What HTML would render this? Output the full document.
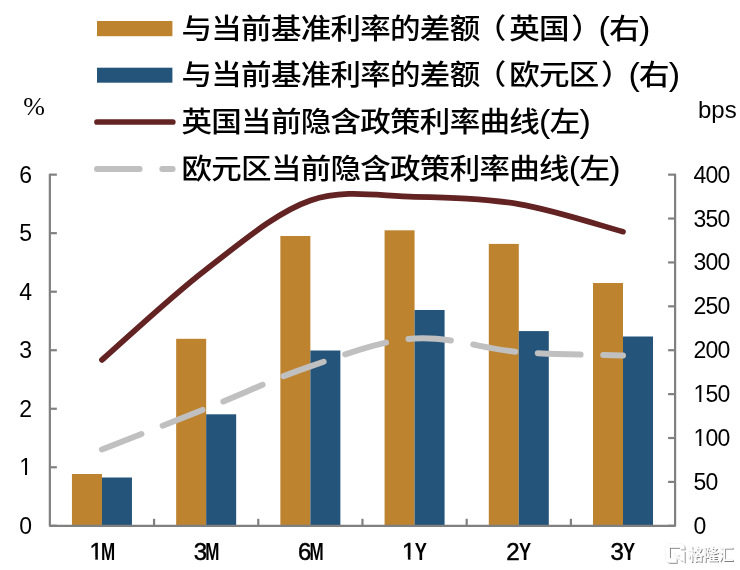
<!DOCTYPE html>
<html lang="zh-CN"><head><meta charset="utf-8"><title>chart</title>
<style>
html,body{margin:0;padding:0;background:#fff;}
body{width:740px;height:570px;overflow:hidden;}
svg{display:block;}
.lg{font-family:"Liberation Sans","Noto Sans CJK SC",sans-serif;font-size:29.2px;font-weight:500;letter-spacing:-0.68px;fill:#000;}
.num{font-family:"Liberation Sans",sans-serif;font-size:23px;letter-spacing:-0.8px;fill:#000;}
.cd{font-family:"Liberation Sans",sans-serif;font-size:24px;fill:#000;stroke:#000;stroke-width:0.5px;}
.cl{font-family:"Liberation Sans",sans-serif;font-size:24px;fill:#000;font-weight:bold;}
</style></head><body>
<svg width="740" height="570" viewBox="0 0 740 570">
<rect width="740" height="570" fill="#fff"/>
<rect x="71.95" y="474.00" width="30.00" height="51.80" fill="#BE832F"/>
<rect x="101.95" y="477.50" width="30.00" height="48.30" fill="#24547A"/>
<rect x="176.16" y="338.80" width="30.00" height="187.00" fill="#BE832F"/>
<rect x="206.16" y="414.30" width="30.00" height="111.50" fill="#24547A"/>
<rect x="280.37" y="236.00" width="30.00" height="289.80" fill="#BE832F"/>
<rect x="310.37" y="350.50" width="30.00" height="175.30" fill="#24547A"/>
<rect x="384.58" y="230.30" width="30.00" height="295.50" fill="#BE832F"/>
<rect x="414.58" y="310.00" width="30.00" height="215.80" fill="#24547A"/>
<rect x="488.79" y="243.90" width="30.00" height="281.90" fill="#BE832F"/>
<rect x="518.79" y="331.10" width="30.00" height="194.70" fill="#24547A"/>
<rect x="593.00" y="283.00" width="30.00" height="242.80" fill="#BE832F"/>
<rect x="623.00" y="336.50" width="30.00" height="189.30" fill="#24547A"/>
<g stroke="#808080" stroke-width="2.2" fill="none" stroke-linejoin="round">
<path d="M49.85 173.65 V525.80 H675.10 V173.65"/>
<path d="M49.85 525.80 h7"/>
<path d="M49.85 467.27 h7"/>
<path d="M49.85 408.75 h7"/>
<path d="M49.85 350.23 h7"/>
<path d="M49.85 291.70 h7"/>
<path d="M49.85 233.17 h7"/>
<path d="M49.85 174.65 h7"/>
<path d="M675.10 525.80 h-7"/>
<path d="M675.10 481.91 h-7"/>
<path d="M675.10 438.01 h-7"/>
<path d="M675.10 394.12 h-7"/>
<path d="M675.10 350.22 h-7"/>
<path d="M675.10 306.33 h-7"/>
<path d="M675.10 262.44 h-7"/>
<path d="M675.10 218.54 h-7"/>
<path d="M675.10 174.65 h-7"/>
<path d="M154.06 525.80 v-7"/>
<path d="M258.27 525.80 v-7"/>
<path d="M362.48 525.80 v-7"/>
<path d="M466.68 525.80 v-7"/>
<path d="M570.89 525.80 v-7"/>
</g>
<path d="M101.95 359.90 C119.32 344.82 171.43 295.97 206.16 269.40 C240.90 242.83 275.63 212.58 310.37 200.50 C345.11 188.42 379.84 196.30 414.58 196.90 C449.32 197.50 484.05 198.30 518.79 204.10 C553.52 209.90 605.63 227.10 623.00 231.70" fill="none" stroke="#642323" stroke-width="5.7" stroke-linecap="round" stroke-linejoin="round"/>
<path d="M101.95 449.50 C119.32 442.67 171.43 422.37 206.16 408.50 C240.90 394.63 275.63 377.98 310.37 366.30 C345.11 354.62 379.84 340.78 414.58 338.40 C449.32 336.02 484.05 349.17 518.79 352.00 C553.52 354.83 605.63 354.83 623.00 355.40" fill="none" stroke="#C0C0C0" stroke-width="6" stroke-linecap="round" stroke-linejoin="round" stroke-dasharray="42.6 22.7"/>
<rect x="97" y="21" width="75.4" height="15.2" fill="#BE832F"/>
<rect x="97" y="67.7" width="75.4" height="15" fill="#24547A"/>
<path d="M97 122.0 H172.8" stroke="#642323" stroke-width="5.7" stroke-linecap="round"/>
<path d="M97 168.9 H172.6" stroke="#C0C0C0" stroke-width="6" stroke-linecap="round" stroke-dasharray="42.6 22.7"/>
<text class="lg" transform="translate(181.5 38.75) scale(1.045 0.955)">与当前基准利率的差额<tspan dx="-3.6">（</tspan><tspan dx="3.6">英国</tspan><tspan dx="2.4">）</tspan><tspan dx="-2.4" style="font-size:32.6px">(</tspan>右<tspan style="font-size:32.6px">)</tspan></text>
<text class="lg" transform="translate(181.5 85.42) scale(1.045 0.955)">与当前基准利率的差额<tspan dx="-3.6">（</tspan><tspan dx="3.6">欧元区</tspan><tspan dx="2.4">）</tspan><tspan dx="-2.4" style="font-size:32.6px">(</tspan>右<tspan style="font-size:32.6px">)</tspan></text>
<text class="lg" transform="translate(181.5 132.09) scale(1.045 0.955)">英国当前隐含政策利率曲线<tspan style="font-size:32.6px">(</tspan>左<tspan style="font-size:32.6px">)</tspan></text>
<text class="lg" transform="translate(181.5 178.76) scale(1.045 0.955)">欧元区当前隐含政策利率曲线<tspan style="font-size:32.6px">(</tspan>左<tspan style="font-size:32.6px">)</tspan></text>
<text class="num" x="19.21" y="533.80">0</text>
<g transform="translate(19.21 475.27) scale(0.0230)"><text class="num" style="font-size:1000px;letter-spacing:0" clip-path="url(#one)">1</text></g>
<text class="num" x="19.21" y="416.75">2</text>
<text class="num" x="19.21" y="358.23">3</text>
<text class="num" x="19.21" y="299.70">4</text>
<text class="num" x="19.21" y="241.17">5</text>
<text class="num" x="19.21" y="182.65">6</text>
<text class="num" x="693.50" y="533.80">0</text>
<text class="num" x="693.50" y="489.91">50</text>
<g transform="translate(693.50 446.01) scale(0.0230)"><text class="num" style="font-size:1000px;letter-spacing:0" clip-path="url(#one)">1</text></g>
<text class="num" x="705.49" y="446.01">00</text>
<g transform="translate(693.50 402.12) scale(0.0230)"><text class="num" style="font-size:1000px;letter-spacing:0" clip-path="url(#one)">1</text></g>
<text class="num" x="705.49" y="402.12">50</text>
<text class="num" x="693.50" y="358.22">200</text>
<text class="num" x="693.50" y="314.33">250</text>
<text class="num" x="693.50" y="270.44">300</text>
<text class="num" x="693.50" y="226.54">350</text>
<text class="num" x="693.50" y="182.65">400</text>
<text x="23.3" y="115" style="font-family:'Liberation Serif',serif;font-size:26px">%</text>
<text x="698" y="118" style="font-family:'Liberation Sans',sans-serif;font-size:24px">bps</text>
<g transform="translate(89.48 559.50) scale(0.0240)"><text class="cd" style="font-size:1000px;letter-spacing:0;stroke-width:20.8px" clip-path="url(#oneb)">1</text></g>
<text class="cl" transform="translate(108.15 559.5) scale(0.71 1)" text-anchor="middle">M</text>
<text class="cd" x="200.36" y="559.5" text-anchor="middle">3</text>
<text class="cl" transform="translate(212.36 559.5) scale(0.71 1)" text-anchor="middle">M</text>
<text class="cd" x="304.57" y="559.5" text-anchor="middle">6</text>
<text class="cl" transform="translate(316.57 559.5) scale(0.71 1)" text-anchor="middle">M</text>
<g transform="translate(402.11 559.50) scale(0.0240)"><text class="cd" style="font-size:1000px;letter-spacing:0;stroke-width:20.8px" clip-path="url(#oneb)">1</text></g>
<text class="cl" transform="translate(420.78 559.5) scale(0.76 1)" text-anchor="middle">Y</text>
<text class="cd" x="512.99" y="559.5" text-anchor="middle">2</text>
<text class="cl" transform="translate(524.99 559.5) scale(0.76 1)" text-anchor="middle">Y</text>
<text class="cd" x="617.20" y="559.5" text-anchor="middle">3</text>
<text class="cl" transform="translate(629.20 559.5) scale(0.76 1)" text-anchor="middle">Y</text>
<defs><filter id="ws" x="-20%" y="-30%" width="140%" height="170%"><feGaussianBlur in="SourceAlpha" stdDeviation="0.65" result="b"/><feOffset in="b" dx="0.55" dy="0.55" result="ob"/><feFlood flood-color="#000" flood-opacity="0.5"/><feComposite in2="ob" operator="in" result="s1"/><feFlood flood-color="#000" flood-opacity="0.3"/><feComposite in2="b" operator="in" result="s2"/><feMerge><feMergeNode in="s2"/><feMergeNode in="s1"/><feMergeNode in="SourceGraphic"/></feMerge></filter>
<clipPath id="one"><rect x="-200" y="-1000" width="1000" height="895"/><rect x="251.5" y="-110" width="88.3" height="110"/></clipPath>
<clipPath id="oneb"><rect x="-200" y="-1000" width="1000" height="895"/><rect x="241" y="-110" width="109.3" height="120.5"/></clipPath></defs>
<g filter="url(#ws)">
<path d="M682.35 549.2 V547.45 a2 2 0 0 0 -2 -2 H669.65 a2 2 0 0 0 -2 2 V558.45 a2 2 0 0 0 2 2 H676.6" fill="none" stroke="#fff" stroke-width="4.5" stroke-linejoin="round"/>
<path d="M676 550.9 H684.6 V562.7 L680.2 558.4 V555.4 H676 Z" fill="#fff"/>
<path d="M674.2 553.6 L682 560.4" fill="none" stroke="#fff" stroke-width="1.8"/>
<text x="688" y="560" style="font-family:'Liberation Sans','Noto Sans CJK SC',sans-serif;font-size:15.4px;letter-spacing:-0.25px;font-weight:500;fill:#fff">格隆汇</text>
</g>
</svg></body></html>
